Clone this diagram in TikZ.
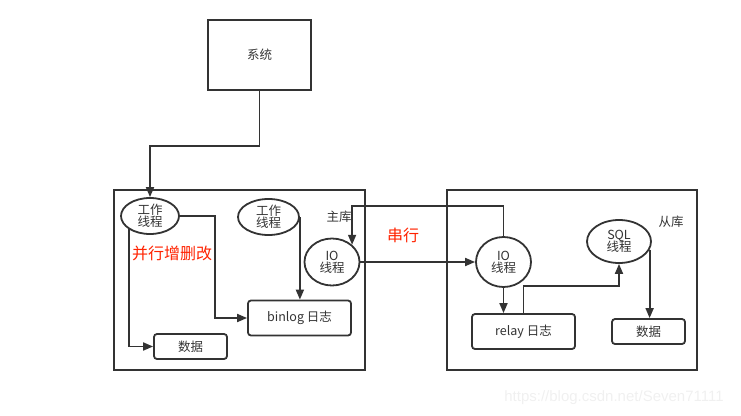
\documentclass[tikz,border=0pt]{standalone}
\usepackage{fontspec}
\newfontfamily\cjk{Noto Sans CJK SC}
\newfontfamily\web{Liberation Sans}
\usetikzlibrary{arrows.meta, shapes.geometric}
\definecolor{ink}{HTML}{333333}
\definecolor{hot}{HTML}{FF2200}

\begin{document}
\begin{tikzpicture}[x=1pt,y=-1pt,>={Triangle[length=10pt,width=8pt]},
	every node/.style={font=\cjk\fontsize{12.5}{15}\selectfont,text=ink},
	line/.style={draw=ink,line width=1.8pt},
	box/.style={line,rounded corners=3pt,minimum height=35pt,inner sep=0pt},
	thread/.style={line,ellipse,align=center,inner sep=0pt},
	note/.style={font=\cjk\fontsize{16}{18}\selectfont,text=hot}]
		\useasboundingbox (0,0) rectangle (741,415);
		
		\draw[line,line width=2pt](114,190)rectangle(365,370);
		\draw[line,line width=2pt](447,190)rectangle(697,370);
		
		\node[line,line width=2pt,minimum width=103pt,minimum height=70pt](sys)at(259.5,55){系统};
		
		\node[thread,minimum width=58pt,minimum height=36pt](w1)at(150,216){工作\\[-3pt]线程};
		\node[thread,minimum width=61pt,minimum height=36pt](w2)at(268.5,217){工作\\[-3pt]线程};
		\node[thread,minimum width=55pt,minimum height=47pt](io1)at(332,262){IO\\[-3pt]线程};
		\node[box,minimum width=103pt](binlog)at(299.5,318){binlog 日志};
		\node[box,minimum width=73pt,minimum height=25pt](data1)at(190.5,346.5){数据};
		
		\node[thread,minimum width=55pt,minimum height=50pt](io2)at(503.5,262){IO\\[-3pt]线程};
		\node[thread,minimum width=64pt,minimum height=43pt](sql)at(619,241.5){SQL\\[-3pt]线程};
		\node[box,minimum width=103pt](relay)at(523.5,331.5){relay 日志};
		\node[box,minimum width=73pt,minimum height=25pt](data2)at(648.5,331.5){数据};
		
		\node(master)at(339,217){主库};
		\node(slave)at(671,222){从库};
		\node[note](par)at(172,253){并行增删改};
		\node[note](ser)at(403,235){串行};
		
		\draw[line,->](sys.south)--++(0,55)-|(w1.north);
		\draw[line,->](w1.east)--++(35,0)|-(binlog.west);
		\draw[line,->](w1.south west)|-(data1.west);
		\draw[line,->](w2.east)--(w2.east|-binlog.north);
		\draw[line,->](io2.north)--++(0,-30)-|(io1.north east);
		\draw[line,->](io1.east)--(io2.west);
		\draw[line,->](io2.south)--(io2.south|-relay.north);
		\draw[line,->](relay.north)--++(0,-27)-|(sql.south);
		\draw[line,->](sql.-15)--(sql.-15|-data2.north);
		
		\node[font=\web\fontsize{15}{17}\selectfont,text=black!6](mark)at(614,398){https://blog.csdn.net/Seven71111};
	\end{tikzpicture}
\end{document}
